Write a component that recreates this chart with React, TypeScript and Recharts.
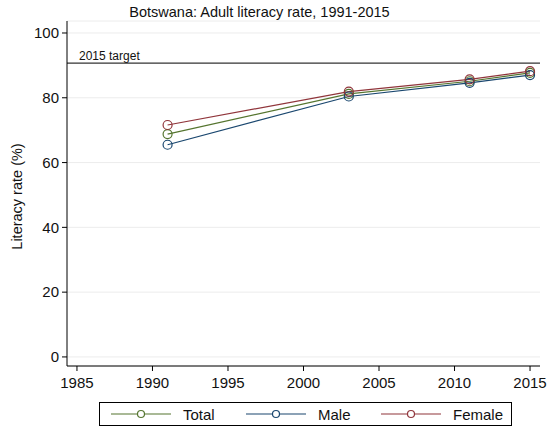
import { CartesianGrid, Line, LineChart, ReferenceLine, XAxis, YAxis } from "recharts"

// Botswana adult literacy
const years = [1991, 2003, 2011, 2015]
const total = [68.8, 81.2, 85.1, 87.7]
const male = [65.5, 80.4, 84.6, 87.0]
const female = [71.6, 81.9, 85.7, 88.2]
const xTicks = [1985, 1990, 1995, 2000, 2005, 2010, 2015]
const yTicks = [0, 20, 40, 60, 80, 100]
const target = 90.7

const series = [
  { key: "total", name: "Total", color: "#55752f" },
  { key: "male", name: "Male", color: "#1a476f" },
  { key: "female", name: "Female", color: "#90353b" },
]

const data = years.map((year, i) => ({
  year,
  total: total[i],
  male: male[i],
  female: female[i],
}))

const font = "'Liberation Sans', Arial, sans-serif"

export default function App() {
  return (
    <div
      style={{
        position: "absolute",
        left: 0,
        top: 0,
        width: 547,
        height: 431,
        background: "#fff",
        fontFamily: font,
      }}
    >
      <div
        style={{
          position: "absolute",
          top: 4,
          left: -14,
          width: 547,
          textAlign: "center",
          fontSize: 14.5,
          color: "#111",
        }}
      >
        Botswana: Adult literacy rate, 1991-2015
      </div>
      <LineChart
        width={547}
        height={431}
        data={data}
        margin={{ top: 21, right: 7, bottom: 35, left: 0 }}
        style={{ fontFamily: font }}
      >
        <CartesianGrid vertical={false} stroke="#ececec" />
        <XAxis
          dataKey="year"
          type="number"
          domain={[1984.34, 2015.66]}
          ticks={xTicks}
          allowDataOverflow
          height={30}
          tickSize={5}
          tickMargin={6}
          stroke="#000"
          tick={{ fill: "#111", fontSize: 15 }}
        />
        <YAxis
          type="number"
          domain={[-2.8, 103.7]}
          ticks={yTicks}
          allowDataOverflow
          width={67}
          tickSize={5}
          tickMargin={3}
          stroke="#000"
          tick={{ fill: "#111", fontSize: 15 }}
          label={({ viewBox }: any) => {
            const cy = viewBox.y + viewBox.height / 2 + 3
            return (
              <text
                x={22}
                y={cy}
                transform={`rotate(-90, 22, ${cy})`}
                textAnchor="middle"
                fontSize={14.5}
                fill="#111"
              >
                Literacy rate (%)
              </text>
            )
          }}
        />
        <ReferenceLine
          y={target}
          stroke="#333"
          strokeWidth={1.3}
          label={({ viewBox }: any) => (
            <text x={viewBox.x + 12} y={viewBox.y - 3} fontSize={12} fill="#111">
              2015 target
            </text>
          )}
        />
        {series.map((s) => (
          <Line
            key={s.key}
            dataKey={s.key}
            name={s.name}
            stroke={s.color}
            strokeWidth={1.2}
            dot={{ r: 4.5, fill: "none", stroke: s.color, strokeWidth: 1.2 }}
            isAnimationActive={false}
          />
        ))}
      </LineChart>
      <div
        style={{
          position: "absolute",
          left: 99,
          top: 402,
          width: 411,
          height: 22,
          border: "1px solid #000",
          display: "flex",
          alignItems: "center",
          fontSize: 15,
          color: "#111",
        }}
      >
        {series.map((s) => (
          <div key={s.key} style={{ display: "flex", alignItems: "center", width: 135 }}>
            <svg width={60} height={12} style={{ marginLeft: 11 }}>
              <line x1={0} y1={6} x2={60} y2={6} stroke={s.color} strokeWidth={1.2} />
              <circle cx={30} cy={6} r={3.5} fill="#fff" stroke={s.color} strokeWidth={1.2} />
            </svg>
            <span style={{ marginLeft: 12 }}>{s.name}</span>
          </div>
        ))}
      </div>
    </div>
  )
}
